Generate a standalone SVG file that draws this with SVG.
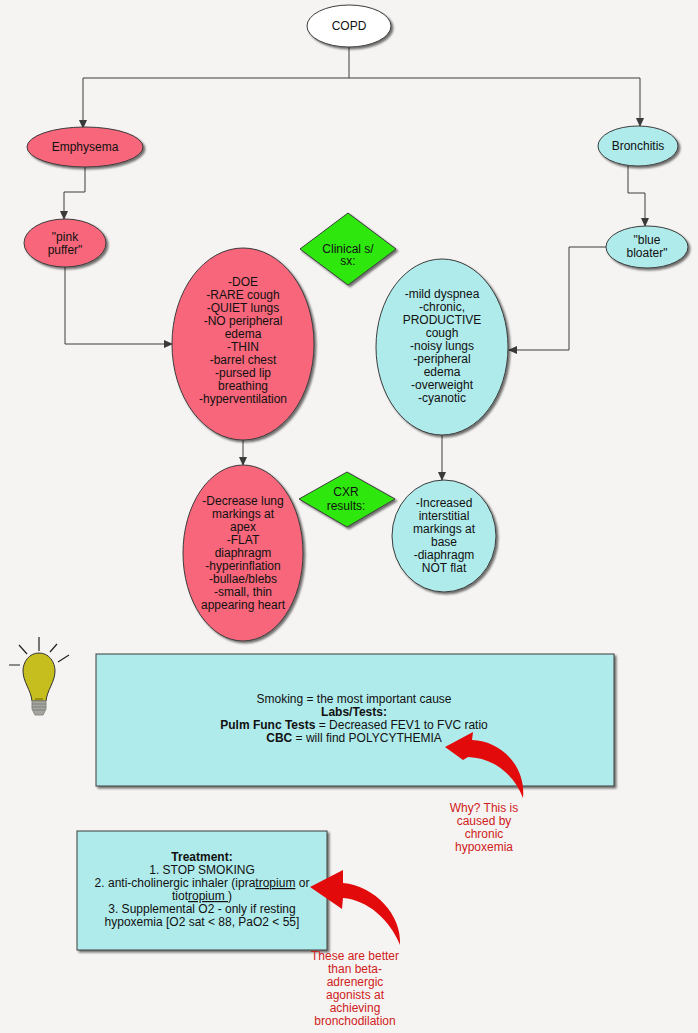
<svg xmlns="http://www.w3.org/2000/svg" width="698" height="1033" viewBox="0 0 698 1033">
<defs>
<marker id="ah" markerWidth="10" markerHeight="10" refX="8" refY="4" orient="auto" markerUnits="userSpaceOnUse"><path d="M0,0 L9,4 L0,8 Z" fill="#3a3a3a"/></marker>
<filter id="sh" x="-10%" y="-10%" width="125%" height="125%"><feDropShadow dx="2" dy="2" stdDeviation="1.2" flood-color="#000" flood-opacity="0.55"/></filter>
</defs>
<style>
text{font-family:"Liberation Sans",Arial,sans-serif;font-size:12px;fill:#111;text-anchor:middle}
.n{stroke:#3c3c3c;stroke-width:1;filter:url(#sh)}
.p{fill:#f7667a}.b{fill:#b0ebeb}.g{fill:#2fe80f}.w{fill:#fff}
.c path{fill:none;stroke:#3c3c3c;stroke-width:1;marker-end:url(#ah)}
text.r{fill:#d0201c}
.t{font-weight:bold}
.a{fill:#e20a0a}
.l{stroke:#222;stroke-width:1.2;fill:none}
</style>
<rect width="698" height="1033" fill="#f5f4f2"/>
<g class="c" id="connectors">
<path d="M349,47V78H83V128"/>
<path d="M349,78H640V126"/>
<path d="M85,167V192H64V219"/>
<path d="M628,166V193H645V226"/>
<path d="M65,267V344H172"/>
<path d="M606,247H569V350H509"/>
<path d="M243,440V465"/>
<path d="M442,435V480"/>
</g>
<g id="n-copd"><ellipse class="n w" cx="349" cy="26" rx="42" ry="21"/><text x="349" y="30">COPD</text></g>
<g id="n-emph"><ellipse class="n p" cx="85" cy="147" rx="58" ry="20"/><text x="85" y="151">Emphysema</text></g>
<g id="n-bron"><ellipse class="n b" cx="638" cy="146" rx="40" ry="20"/><text x="638" y="150">Bronchitis</text></g>
<g id="n-pink"><ellipse class="n p" cx="65" cy="243" rx="41" ry="24"/><text x="65" y="241">"pink</text><text x="65" y="254">puffer"</text></g>
<g id="n-blue"><ellipse class="n b" cx="647" cy="247" rx="41" ry="21"/><text x="647" y="244">"blue</text><text x="647" y="257">bloater"</text></g>
<g id="n-clin"><polygon class="n g" points="348,213 396,249 348,285 300,249"/><text x="348" y="253">Clinical s/</text><text x="348" y="265">sx:</text></g>
<g id="n-cxr"><polygon class="n g" points="347,472 395,499 347,527 299,499"/><text x="346" y="496">CXR</text><text x="346" y="510">results:</text></g>
<g id="n-doe"><ellipse class="n p" cx="243" cy="344" rx="71" ry="96"/>
<text x="243" y="286">-DOE</text><text x="243" y="299">-RARE cough</text><text x="243" y="312">-QUIET lungs</text><text x="243" y="325">-NO peripheral</text><text x="243" y="338">edema</text><text x="243" y="351">-THIN</text><text x="243" y="364">-barrel chest</text><text x="243" y="377">-pursed lip</text><text x="243" y="390">breathing</text><text x="243" y="403">-hyperventilation</text></g>
<g id="n-mild"><ellipse class="n b" cx="442" cy="347" rx="66" ry="88"/>
<text x="442" y="298">-mild dyspnea</text><text x="442" y="311">-chronic,</text><text x="442" y="324">PRODUCTIVE</text><text x="442" y="337">cough</text><text x="442" y="350">-noisy lungs</text><text x="442" y="363">-peripheral</text><text x="442" y="376">edema</text><text x="442" y="389">-overweight</text><text x="442" y="402">-cyanotic</text></g>
<g id="n-dec"><ellipse class="n p" cx="243" cy="553" rx="60" ry="88"/>
<text x="243" y="505">-Decrease lung</text><text x="243" y="518">markings at</text><text x="243" y="531">apex</text><text x="243" y="544">-FLAT</text><text x="243" y="557">diaphragm</text><text x="243" y="570">-hyperinflation</text><text x="243" y="583">-bullae/blebs</text><text x="243" y="596">-small, thin</text><text x="243" y="609">appearing heart</text></g>
<g id="n-inc"><ellipse class="n b" cx="444" cy="536" rx="52" ry="56"/>
<text x="444" y="507">-Increased</text><text x="444" y="520">interstitial</text><text x="444" y="533">markings at</text><text x="444" y="546">base</text><text x="444" y="559">-diaphragm</text><text x="444" y="572">NOT flat</text></g>
<g id="bulb">
<path d="M39,653C29,653 23,662 23,671C23,682 31,690 32,701H46C47,690 55,682 55,671C55,662 49,653 39,653Z" fill="#c6bd1e" stroke="#333" stroke-width="1"/>
<path d="M32,701H46V709L43,715H35L32,709Z" fill="#a5a5a0" stroke="#8a8a85" stroke-width="1"/>
<path d="M32,704H46M32,707H46M33,710H45" stroke="#777" stroke-width="0.8" fill="none"/>
<path d="M35,699H43" stroke="#6a6410" stroke-width="1" fill="none"/>
<path class="l" d="M39,637V651M19,645L27,654M9,665H20M57,644L50,652M69,655L58,662"/>
</g>
<g id="n-smoke"><rect class="n b" x="96" y="654" width="518" height="132"/>
<text x="354" y="703">Smoking = the most important cause</text><text class="t" x="354" y="716">Labs/Tests:</text><text x="354" y="729"><tspan class="t">Pulm Func Tests</tspan> = Decreased FEV1 to FVC ratio</text><text x="354" y="742"><tspan class="t">CBC</tspan> = will find POLYCYTHEMIA</text></g>
<g id="n-treat"><rect class="n b" x="77" y="831" width="250" height="119"/>
<text class="t" x="202" y="861">Treatment:</text><text x="202" y="874">1. STOP SMOKING</text><text x="202" y="887">2. anti-cholinergic inhaler (ipra<tspan text-decoration="underline">tropium</tspan> or</text><text x="202" y="900">tiot<tspan text-decoration="underline">ropium </tspan>)</text><text x="202" y="913">3. Supplemental O2 - only if resting</text><text x="202" y="926">hypoxemia [O2 sat &lt; 88, PaO2 &lt; 55]</text></g>
<g id="arrow1"><path class="a" d="M445,747L473,732L472,740C502,741 526,767 523,798C515,776 495,758 468,757L463,760Z"/>
<text class="r" x="484" y="812">Why? This is</text><text class="r" x="484" y="825">caused by</text><text class="r" x="484" y="838">chronic</text><text class="r" x="484" y="851">hypoxemia</text></g>
<g id="arrow2"><path class="a" d="M310,887L343,870L343,883C375,886 402,915 400,945C390,920 368,900 343,898L342,909Z"/>
<text class="r" x="355" y="960">These are better</text><text class="r" x="355" y="973">than beta-</text><text class="r" x="355" y="986">adrenergic</text><text class="r" x="355" y="999">agonists at</text><text class="r" x="355" y="1012">achieving</text><text class="r" x="355" y="1025">bronchodilation</text></g>
</svg>
